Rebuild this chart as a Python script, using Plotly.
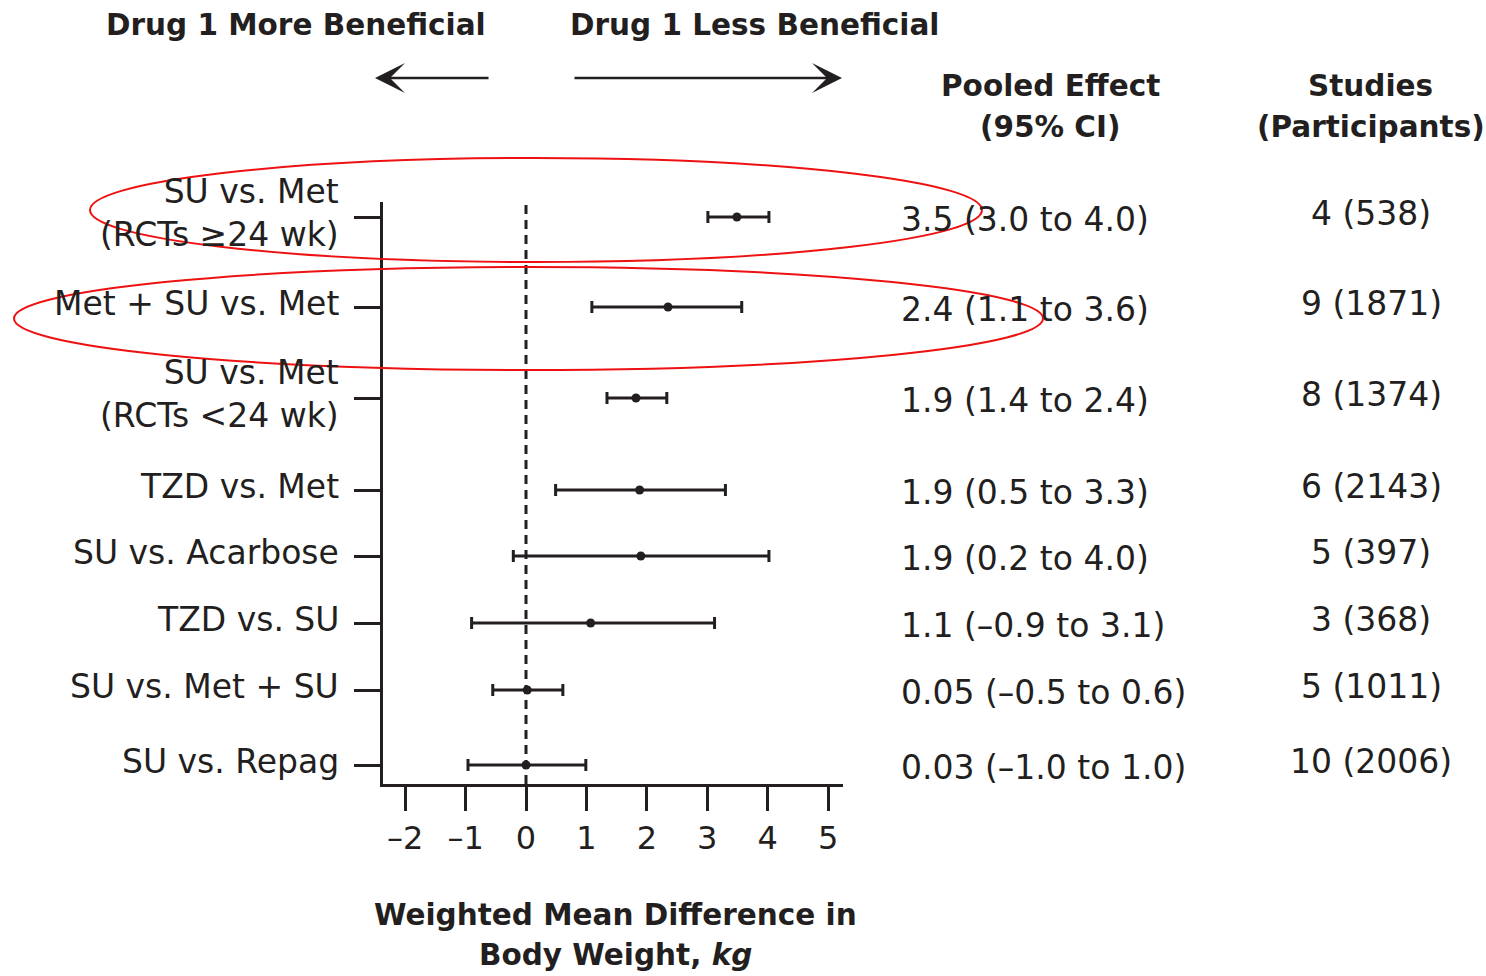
import plotly.graph_objects as go

# ---------------- data ----------------
comparisons = [
    "SU vs. Met<br>(RCTs ≥24 wk)",
    "Met + SU vs. Met",
    "SU vs. Met<br>(RCTs <24 wk)",
    "TZD vs. Met",
    "SU vs. Acarbose",
    "TZD vs. SU",
    "SU vs. Met + SU",
    "SU vs. Repag",
]
effect = [3.49, 2.35, 1.82, 1.88, 1.90, 1.07, 0.02, 0.00]
ci_low = [3.01, 1.09, 1.34, 0.49, -0.21, -0.90, -0.55, -0.96]
ci_high = [4.02, 3.57, 2.33, 3.30, 4.02, 3.12, 0.61, 0.99]
pooled_text = [
    "3.5 (3.0 to 4.0)",
    "2.4 (1.1 to 3.6)",
    "1.9 (1.4 to 2.4)",
    "1.9 (0.5 to 3.3)",
    "1.9 (0.2 to 4.0)",
    "1.1 (–0.9 to 3.1)",
    "0.05 (–0.5 to 0.6)",
    "0.03 (–1.0 to 1.0)",
]
studies_text = ["4 (538)", "9 (1871)", "8 (1374)", "6 (2143)",
                "5 (397)", "3 (368)", "5 (1011)", "10 (2006)"]
x_tickvals = [-2, -1, 0, 1, 2, 3, 4, 5]
x_ticktext = ["–2", "–1", "0", "1", "2", "3", "4", "5"]

# ---------------- layout helpers ----------------
row_y = [217, 307, 398, 490, 556, 623, 690, 765]   # vertical row spacing (layout)
W, H = 1486, 976
PL, PR, PT, PB = 383, 843, 202, 784                 # plot area in px
INK = "#231f20"
FONT = "DejaVu Sans"

def px(xp):
    return (xp - PL) / (PR - PL)

def py(yp):
    return (PB - yp) / (PB - PT)

fig = go.Figure()
fig.add_trace(go.Scatter(
    x=effect, y=row_y, mode="markers",
    marker=dict(size=9, color=INK),
    error_x=dict(type="data", symmetric=False,
                 array=[h - e for h, e in zip(ci_high, effect)],
                 arrayminus=[e - l for e, l in zip(effect, ci_low)],
                 color=INK, thickness=3, width=6),
    showlegend=False, hoverinfo="skip",
))

shapes = [
    dict(type="line", xref="x", yref="paper", x0=0, x1=0, y0=0, y1=0.995,
         line=dict(color=INK, width=3, dash="9px,6px"), layer="below"),
    dict(type="circle", xref="paper", yref="paper",
         x0=px(90), x1=px(982), y0=py(262), y1=py(158),
         line=dict(color="#ee1111", width=2)),
    dict(type="circle", xref="paper", yref="paper",
         x0=px(14), x1=px(1043), y0=py(370), y1=py(267),
         line=dict(color="#ee1111", width=2)),
]

ann = []
for lab, yv in zip(comparisons, row_y):
    ann.append(dict(text=lab, xref="paper", yref="y", x=px(341), y=yv,
                    xanchor="right", yanchor="middle", align="right", yshift=4,
                    showarrow=False, font=dict(family=FONT, size=33, color=INK)))
for t, yv in zip(pooled_text, row_y):
    ann.append(dict(text=t, xref="paper", yref="y", x=px(899), y=yv,
                    xanchor="left", yanchor="middle", yshift=-2,
                    showarrow=False, font=dict(family=FONT, size=33, color=INK)))
for t, yv in zip(studies_text, row_y):
    ann.append(dict(text=t, xref="paper", yref="y", x=px(1371), y=yv,
                    xanchor="center", yanchor="middle", yshift=4,
                    showarrow=False, font=dict(family=FONT, size=33, color=INK)))

def head(text, xc, yc, size=29.5):
    ann.append(dict(text=text, xref="paper", yref="paper", x=px(xc), y=py(yc),
                    xanchor="center", yanchor="middle", showarrow=False,
                    font=dict(family=FONT, size=size, color=INK)))

head("<b>Drug 1 More Beneficial</b>", 296, 25)
head("<b>Drug 1 Less Beneficial</b>", 754, 25)
head("<b>Pooled Effect</b>", 1050, 86)
head("<b>(95% CI)</b>", 1050, 127)
head("<b>Studies</b>", 1370, 86)
head("<b>(Participants)</b>", 1371, 127)
head("<b>Weighted Mean Difference in</b>", 615, 915)
head("<b>Body Weight, <i>kg</i></b>", 615, 955)

# arrows
ann.append(dict(xref="paper", yref="paper", x=px(375), y=py(78),
                axref="pixel", ayref="pixel", ax=115, ay=0, text="",
                showarrow=True, arrowhead=3, arrowsize=2, arrowwidth=2.5,
                arrowcolor=INK))
ann.append(dict(xref="paper", yref="paper", x=px(842), y=py(78),
                axref="pixel", ayref="pixel", ax=-269, ay=0, text="",
                showarrow=True, arrowhead=3, arrowsize=2, arrowwidth=2.5,
                arrowcolor=INK))

fig.update_layout(
    width=W, height=H,
    margin=dict(l=PL, r=W - PR, t=PT, b=H - PB),
    paper_bgcolor="white", plot_bgcolor="white",
    shapes=shapes, annotations=ann,
    xaxis=dict(range=[(PL - 526) / 60.43, (PR - 526) / 60.43],
               tickvals=x_tickvals, ticktext=x_ticktext,
               ticks="outside", ticklen=24, tickwidth=3, tickcolor=INK,
               showline=True, linewidth=3, linecolor=INK,
               showgrid=False, zeroline=False,
               tickfont=dict(family=FONT, size=32, color=INK)),
    yaxis=dict(range=[PB, PT], tickvals=row_y, ticktext=[""] * len(row_y),
               ticks="outside", ticklen=26, tickwidth=3, tickcolor=INK,
               showline=True, linewidth=3, linecolor=INK,
               showgrid=False, zeroline=False),
)

fig.write_html("out.html")
